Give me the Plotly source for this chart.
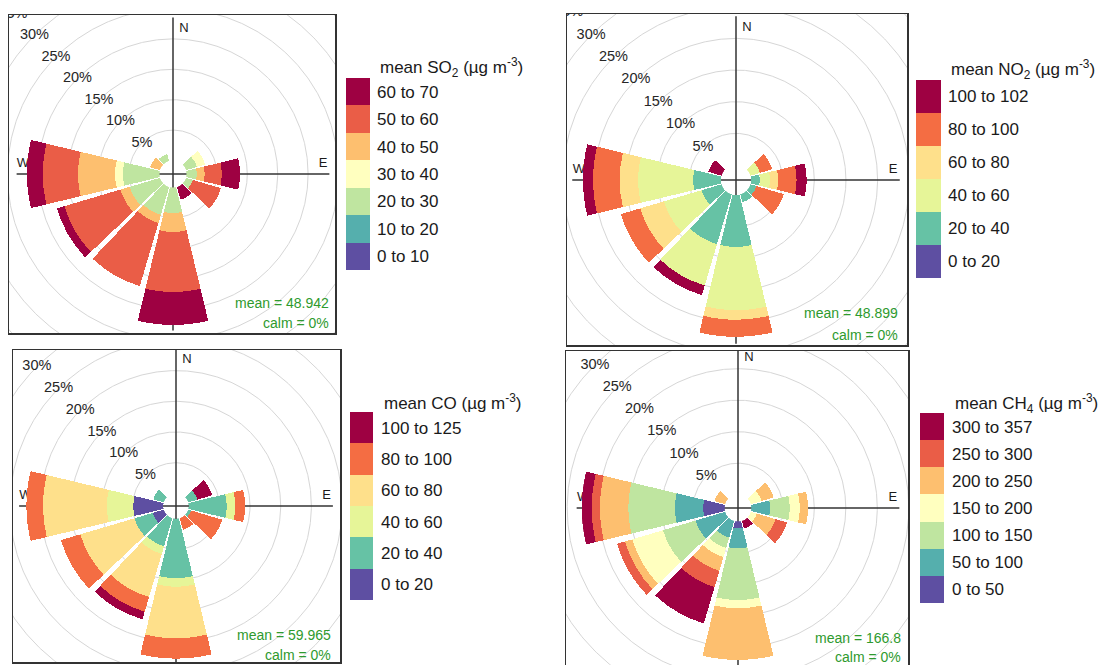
import numpy as np
import plotly.graph_objects as go

W, H = 1109, 665

# ---------------- data ----------------
directions = [0, 30, 60, 90, 120, 150, 180, 210, 240, 270, 300, 330]
freq_ticks = [5, 10, 15, 20, 25, 30, 35]

# SO2 (frequency %, per concentration interval, per direction)
so2_labels = ["0 to 10", "10 to 20", "20 to 30", "30 to 40", "40 to 50", "50 to 60", "60 to 70"]
so2_00_10 = [0, 0, 0, 0, 0, 0, 0, 0, 0, 0, 0, 0]
so2_10_20 = [0, 0, 0, 0, 0, 0, 0, 0, 0, 0, 0, 0]
so2_20_30 = [0, 0, 1.9, 1.7, 1.2, 0, 4.2, 4.8, 5.2, 6.0, 0, 1.2]
so2_30_40 = [0, 0, 1.4, 0, 0, 0, 0, 0, 0, 1.3, 0, 0]
so2_40_50 = [0, 0, 0, 1.3, 0, 0, 3.1, 1.4, 1.6, 6.1, 1.7, 0]
so2_50_60 = [0, 0, 0, 2.8, 4.8, 0, 9.9, 10.8, 9.6, 5.8, 0, 0]
so2_60_70 = [0, 0, 0, 3.0, 0, 2.2, 5.4, 0, 1.3, 2.6, 0, 0]
so2_mean = "48.942"

# NO2
no2_labels = ["0 to 20", "20 to 40", "40 to 60", "60 to 80", "80 to 100", "100 to 102"]
no2_000_020 = [0, 0, 0, 0, 0, 0, 0, 0, 0, 0, 0, 0]
no2_020_040 = [0, 0, 0, 1.4, 1.0, 1.3, 8.2, 8.2, 3.3, 4.4, 0, 0]
no2_040_060 = [0, 0, 1.6, 1.6, 0, 0, 10.0, 6.8, 6.2, 8.7, 0, 0]
no2_060_080 = [0, 0, 0, 1.3, 0, 0, 1.5, 0, 3.9, 2.9, 0, 0]
no2_080_100 = [0, 0, 2.0, 2.9, 4.5, 0, 2.7, 0, 3.2, 4.2, 0, 0]
no2_100_102 = [0, 0, 0, 1.6, 0, 0, 0, 1.6, 0, 1.6, 2.2, 0]
no2_mean = "48.899"

# CO
co_labels = ["0 to 20", "20 to 40", "40 to 60", "60 to 80", "80 to 100", "100 to 125"]
co_000_020 = [0, 0, 0, 0, 0, 0, 0, 0, 1.9, 4.9, 0, 0]
co_020_040 = [0, 0, 1.6, 6.2, 0.5, 0, 9.7, 4.8, 3.1, 0, 1.8, 0]
co_040_060 = [0, 0, 0, 1.4, 0, 0, 1.4, 1.3, 0, 4.3, 0, 0]
co_060_080 = [0, 0, 0, 0, 0, 0, 8.4, 7.3, 9.2, 10.4, 0, 0]
co_080_100 = [0, 0, 0, 1.6, 5.3, 2.0, 3.3, 2.5, 3.3, 2.7, 0, 0]
co_100_125 = [0, 0, 2.5, 0, 0, 0, 0, 1.3, 0, 0, 0, 0]
co_mean = "59.965"

# CH4
ch4_labels = ["0 to 50", "50 to 100", "100 to 150", "150 to 200", "200 to 250", "250 to 300", "300 to 357"]
ch4_000_050 = [0, 0, 0, 0, 0, 0, 1.1, 0, 0, 3.4, 0, 0]
ch4_050_100 = [0, 0, 0, 3.0, 0, 0, 3.2, 2.8, 4.9, 4.5, 0, 0]
ch4_100_150 = [0, 0, 0, 3.1, 0, 0, 8.2, 1.7, 5.4, 7.4, 0, 0]
ch4_150_200 = [0, 0, 1.8, 1.6, 1.0, 0, 1.3, 1.5, 5.1, 0, 0, 0]
ch4_200_250 = [0, 0, 2.0, 1.3, 3.1, 0, 8.2, 2.3, 1.2, 4.5, 1.8, 0]
ch4_250_300 = [0, 0, 0, 0, 1.9, 0, 0, 2.7, 1.3, 1.3, 0, 0]
ch4_300_357 = [0, 0, 0, 0, 0, 1.3, 0, 6.0, 0, 1.6, 0, 0]
ch4_mean = "166.8"

calm_pct = "0%"

# ---------------- styles ----------------
pal7 = ["#5e4fa2", "#55afad", "#bfe5a0", "#ffffbf", "#fdbf6f", "#ea5d47", "#9e0142"]
pal6 = ["#5e4fa2", "#66c2a5", "#e6f598", "#fee08b", "#f46d43", "#9e0142"]

FONT = "Liberation Sans, Arial, sans-serif"
TXT = "#1a1a1a"
GREEN = "#2e9a2e"
GRID = "#d6d6d6"
AXIS = "#333333"
SECTOR_W = 27

panels = [
    dict(freqs=[so2_00_10, so2_10_20, so2_20_30, so2_30_40, so2_40_50, so2_50_60, so2_60_70],
         labels=so2_labels, colors=pal7, mean=so2_mean,
         title="mean SO<sub>2</sub> (\u00b5g m<sup>-3</sup>)",
         box=(9, 15, 335, 333), bottom_line=True, center=(173, 174), off=13.5, scale=6.08,
         key=(346, 78, 370, 270), label_x=378, title_y=67,
         txt_right=331, mean_y=303, calm_y=323),
    dict(freqs=[no2_000_020, no2_020_040, no2_040_060, no2_060_080, no2_080_100, no2_100_102],
         labels=no2_labels, colors=pal6, mean=no2_mean,
         title="mean NO<sub>2</sub> (\u00b5g m<sup>-3</sup>)",
         box=(567, 14, 907, 345), bottom_line=True, center=(736, 180), off=15.0, scale=6.33,
         key=(916, 80, 941, 278), label_x=949, title_y=69,
         txt_right=900, mean_y=313, calm_y=335),
    dict(freqs=[co_000_020, co_020_040, co_040_060, co_060_080, co_080_100, co_100_125],
         labels=co_labels, colors=pal6, mean=co_mean,
         title="mean CO (\u00b5g m<sup>-3</sup>)",
         box=(13, 350, 340, 662), bottom_line=True, center=(176, 506), off=12.6, scale=6.14,
         key=(350, 412, 373, 600), label_x=382, title_y=402,
         txt_right=333, mean_y=635, calm_y=655),
    dict(freqs=[ch4_000_050, ch4_050_100, ch4_100_150, ch4_150_200, ch4_200_250, ch4_250_300, ch4_300_357],
         labels=ch4_labels, colors=pal7, mean=ch4_mean,
         title="mean CH<sub>4</sub> (\u00b5g m<sup>-3</sup>)",
         box=(566, 351, 908, 665), bottom_line=False, center=(738, 508), off=13.3, scale=6.3,
         key=(920, 413, 944, 603), label_x=953, title_y=403,
         txt_right=903, mean_y=638, calm_y=657),
]

fig = go.Figure()
layout = dict(width=W, height=H, autosize=False, margin=dict(l=0, r=0, t=0, b=0, pad=0),
              paper_bgcolor="white", plot_bgcolor="white", showlegend=False,
              bargap=0, font=dict(family=FONT, color=TXT), hovermode=False)
annotations = []
theta_c = np.linspace(0, 2 * np.pi, 721)

for i, p in enumerate(panels):
    x0, y0, x1, y1 = p["box"]
    cx, cy = p["center"]
    off, sc = p["off"], p["scale"]
    m, k = 2 * i + 1, 2 * i + 2
    xm = "x" if m == 1 else f"x{m}"
    ym = "y" if m == 1 else f"y{m}"
    xk, yk = f"x{k}", f"y{k}"
    xname = "xaxis" if m == 1 else f"xaxis{m}"
    yname = "yaxis" if m == 1 else f"yaxis{m}"

    layout[xname] = dict(domain=[x0 / W, x1 / W], range=[x0 - cx, x1 - cx], anchor=ym,
                         showgrid=False, zeroline=False, showticklabels=False, ticks="",
                         showline=True, mirror=p["bottom_line"],
                         side="bottom" if p["bottom_line"] else "top",
                         linecolor=AXIS, linewidth=1.5, fixedrange=True)
    layout[yname] = dict(domain=[1 - y1 / H, 1 - y0 / H], range=[cy - y1, cy - y0], anchor=xm,
                         showgrid=False, zeroline=False, showticklabels=False, ticks="",
                         showline=True, mirror=True, linecolor=AXIS, linewidth=1.5,
                         fixedrange=True)

    # grid circles
    for v in freq_ticks:
        r = off + sc * v
        fig.add_trace(go.Scatter(x=r * np.cos(theta_c), y=r * np.sin(theta_c), mode="lines",
                                 line=dict(color=GRID, width=1), xaxis=xm, yaxis=ym,
                                 hoverinfo="skip"))
    # cross axes
    L = off + sc * 23.5
    fig.add_trace(go.Scatter(x=[-L, L, None, 0, 0], y=[0, 0, None, -L, L], mode="lines",
                             line=dict(color=AXIS, width=1.5), xaxis=xm, yaxis=ym,
                             hoverinfo="skip"))
    # compass letters
    fig.add_trace(go.Scatter(x=[11, 0.96 * L, -0.96 * L], y=[0.93 * L, 10, 10],
                             text=["N", "E", "W"], mode="text",
                             textfont=dict(size=13, color=TXT, family=FONT),
                             xaxis=xm, yaxis=ym, hoverinfo="skip", cliponaxis=True))
    # frequency labels
    rr = off + sc * np.array(freq_ticks, dtype=float)
    fig.add_trace(go.Scatter(x=-rr / np.sqrt(2), y=rr / np.sqrt(2),
                             text=[f"{v}%" for v in freq_ticks], mode="text",
                             textfont=dict(size=14.5, color="#262626", family=FONT),
                             xaxis=xm, yaxis=ym, hoverinfo="skip", cliponaxis=True))

    # polar subplot holding the rose
    R = min(off + sc * 24, cy, H - cy, cx, W - cx) - 0.5
    pname = "polar" if i == 0 else f"polar{i + 1}"
    layout[pname] = dict(
        domain=dict(x=[(cx - R) / W, (cx + R) / W], y=[1 - (cy + R) / H, 1 - (cy - R) / H]),
        hole=off / R, bgcolor="rgba(0,0,0,0)", barmode="stack", bargap=0,
        radialaxis=dict(range=[0, (R - off) / sc], showgrid=False, showline=False,
                        showticklabels=False, ticks=""),
        angularaxis=dict(rotation=90, direction="clockwise", showgrid=False,
                         showline=False, showticklabels=False, ticks=""))
    for vals, col in zip(p["freqs"], p["colors"]):
        fig.add_trace(go.Barpolar(r=vals, theta=directions, width=[SECTOR_W] * len(directions),
                                  marker=dict(color=col, line=dict(width=0)),
                                  subplot=pname, hoverinfo="skip"))

    # colour key
    kx0, ky0, kx1, ky1 = p["key"]
    n = len(p["labels"])
    layout[f"xaxis{k}"] = dict(domain=[kx0 / W, kx1 / W], range=[0, 1], anchor=yk,
                               visible=False, fixedrange=True)
    layout[f"yaxis{k}"] = dict(domain=[1 - ky1 / H, 1 - ky0 / H], anchor=xk, type="category",
                               range=[-0.5, n - 0.5], side="right", showgrid=False,
                               zeroline=False, showline=False, ticks="",
                               ticklabelstandoff=p["label_x"] - kx1 - 2,
                               tickfont=dict(size=17, color=TXT, family=FONT),
                               fixedrange=True)
    fig.add_trace(go.Bar(x=[1] * n, y=p["labels"], orientation="h", width=1,
                         marker=dict(color=p["colors"], line=dict(width=0)),
                         xaxis=xk, yaxis=yk, hoverinfo="skip"))
    annotations.append(dict(x=p["label_x"] / W, y=1 - p["title_y"] / H, xref="paper",
                            yref="paper", text=p["title"], showarrow=False,
                            xanchor="left", yanchor="middle",
                            font=dict(size=17, color=TXT, family=FONT)))
    # mean / calm
    annotations.append(dict(x=p["txt_right"] / W, y=1 - p["mean_y"] / H, xref="paper",
                            yref="paper", text=f"mean = {p['mean']}", showarrow=False,
                            xanchor="right", yanchor="middle",
                            font=dict(size=14, color=GREEN, family=FONT)))
    annotations.append(dict(x=p["txt_right"] / W, y=1 - p["calm_y"] / H, xref="paper",
                            yref="paper", text=f"calm = {calm_pct}", showarrow=False,
                            xanchor="right", yanchor="middle",
                            font=dict(size=14, color=GREEN, family=FONT)))

layout["annotations"] = annotations
fig.update_layout(**layout)
fig.write_html("out.html", config={"displayModeBar": False, "staticPlot": True},
               post_script="document.body.style.margin='0';document.body.style.overflow='hidden';")
